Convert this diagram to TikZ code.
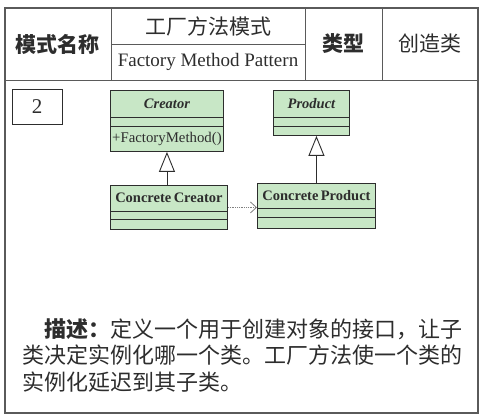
\documentclass[tikz,border=0pt]{standalone}
\usepackage{fontspec}
\setmainfont{Liberation Serif}
\newfontfamily\hei{Noto Sans CJK SC}
\usetikzlibrary{arrows.meta,positioning,calc}
\definecolor{ink}{RGB}{45,45,45}
\definecolor{rule}{RGB}{90,90,90}
\definecolor{uml}{RGB}{200,231,198}
\tikzset{
  frame/.style={draw=rule,line width=1.3pt},
  cell/.style={draw=rule,line width=0.9pt},
  head/.style={font=\hei\fontsize{21}{24}\selectfont,text=ink},
  headbf/.style={font=\hei\bfseries\fontsize{21}{24}\selectfont,text=ink},
  cls/.style={draw=ink,fill=uml,line width=0.9pt,anchor=north west,inner sep=0pt},
  clsname/.style={font=\fontsize{14.5}{16}\selectfont\bfseries,text=ink},
  sep/.style={draw=ink,line width=0.7pt},
  gen/.style={-{Triangle[open,length=20pt,width=16pt]},draw=ink,line width=0.9pt},
  dep/.style={-{Straight Barb[length=6pt,width=11pt]},draw=gray,densely dotted,line width=0.8pt},
}

\begin{document}
\begin{tikzpicture}[x=1pt,y=-1pt]
  \useasboundingbox (0,0) rectangle (487,419);
  % table
  \draw[frame] (5,8) rectangle (478,413);
  \draw[cell] (5,80) -- (478,80);
  \draw[cell] (111,8) -- (111,80) (305,8) -- (305,80) (382,8) -- (382,80);
  \draw[cell] (111,44) -- (305,44);
  \node[headbf] (namekey) at (58,44) {模式名称};
  \node[head] (namecn) at (208,26) {工厂方法模式};
  \node[font=\fontsize{19}{22}\selectfont,text=ink] (nameen) at (208,62) {Factory Method Pattern};
  \node[headbf] (kindkey) at (343,44) {类型};
  \node[head] (kind) at (430,44) {创造类};
  \node[draw=ink,line width=0.9pt,minimum width=50pt,minimum height=35pt,
    font=\fontsize{21}{23}\selectfont,text=ink] (num) at (37,107) {2};

  % classes
  \node[cls,minimum width=113pt,minimum height=61pt] (creator) at (110,90) {};
  \node[clsname,font=\fontsize{14.5}{16}\selectfont\bfseries\itshape] (creatorname)
    at ($(creator.north)+(0,13.5)$) {Creator};
  \node[font=\fontsize{14.8}{16}\selectfont,text=ink,inner sep=0pt] (factorymethod)
    at ($(creator.north)+(0,48.5)$) {+FactoryMethod()};
  \draw[sep] ($(creator.north west)+(0,27)$) -- ($(creator.north east)+(0,27)$);
  \draw[sep] ($(creator.north west)+(0,36)$) -- ($(creator.north east)+(0,36)$);

  \node[cls,minimum width=117pt,minimum height=44pt] (concretecreator) at (110,185) {};
  \node[clsname] (concretecreatorname)
    at ($(concretecreator.north)+(0,13)$) {Concrete\,Creator};
  \draw[sep] ($(concretecreator.north west)+(0,26)$) -- ($(concretecreator.north east)+(0,26)$);
  \draw[sep] ($(concretecreator.north west)+(0,34)$) -- ($(concretecreator.north east)+(0,34)$);

  \node[cls,minimum width=76pt,minimum height=45pt] (product) at (273,90) {};
  \node[clsname,font=\fontsize{14.5}{16}\selectfont\bfseries\itshape] (productname)
    at ($(product.north)+(0,13.5)$) {Product};
  \draw[sep] ($(product.north west)+(0,27)$) -- ($(product.north east)+(0,27)$);
  \draw[sep] ($(product.north west)+(0,36)$) -- ($(product.north east)+(0,36)$);

  \node[cls,minimum width=118pt,minimum height=45pt] (concreteproduct) at (257,183) {};
  \node[clsname] (concreteproductname)
    at ($(concreteproduct.north)+(0,12.5)$) {Concrete\,Product};
  \draw[sep] ($(concreteproduct.north west)+(0,25)$) -- ($(concreteproduct.north east)+(0,25)$);
  \draw[sep] ($(concreteproduct.north west)+(0,34)$) -- ($(concreteproduct.north east)+(0,34)$);

  % relations
  \draw[gen] (creator.south |- concretecreator.north) -- (creator.south);
  \draw[gen] (concreteproduct.north) -- (concreteproduct.north |- product.south);
  \draw[dep] (concretecreator.east) -- (concretecreator.east -| concreteproduct.west);

  \node[anchor=north west,inner sep=0pt,align=left,text=ink,
    font=\hei\fontsize{22}{26.5}\selectfont] (desc) at (22,318)
    {\hspace*{22pt}{\bfseries 描述：}定义一个用于创建对象的接口，让子\\
     类决定实例化哪一个类。工厂方法使一个类的\\
     实例化延迟到其子类。};
\end{tikzpicture}
\end{document}
